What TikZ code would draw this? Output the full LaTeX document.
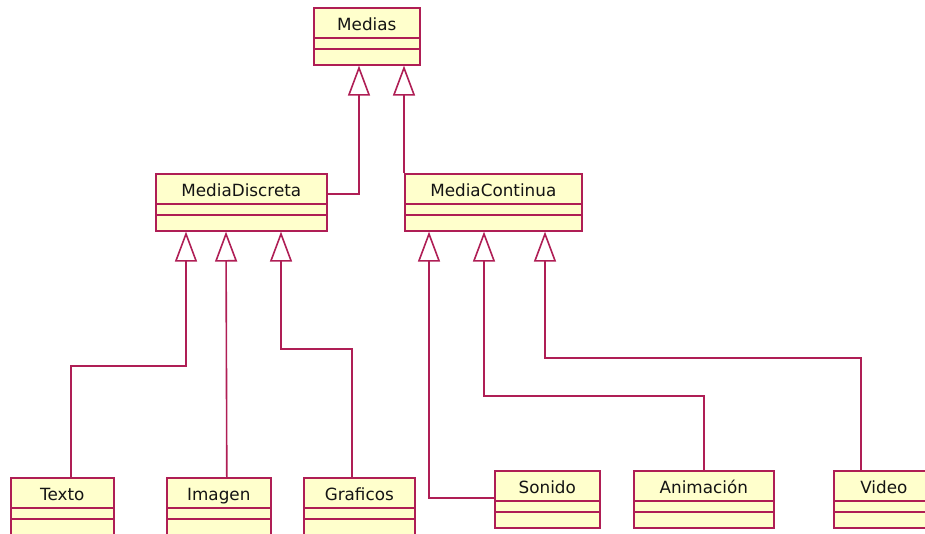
\documentclass[tikz,border=0pt]{standalone}
\usepackage{fontspec}
\setmainfont{DejaVu Sans}
\usetikzlibrary{arrows.meta}

\definecolor{umlborder}{RGB}{175,30,85}
\definecolor{umlfill}{RGB}{255,255,204}
\definecolor{umltext}{RGB}{20,20,20}

\tikzset{
  umlline/.style={line width=1.6pt},
  classbox/.style={draw=umlborder, fill=umlfill, umlline,
    inner sep=0pt, anchor=north west, minimum height=57pt},
  classname/.style={anchor=base, inner sep=0pt, text=umltext,
    font=\fontsize{16.8}{20}\selectfont},
  divider/.style={draw=umlborder, umlline},
  gen/.style={draw=umlborder, umlline,
    -{Triangle[open, length=30pt, width=22pt]}},
}

% \umlclass{id}{x}{y}{width}{name}: class box with name, attribute and operation compartments
\newcommand\umlclass[5]{%
  \node[classbox, minimum width=#4pt] (#1) at (#2,#3) {};
  \path[divider] ([yshift=-31pt]#1.north west) -- ([yshift=-31pt]#1.north east);
  \path[divider] ([yshift=-42pt]#1.north west) -- ([yshift=-42pt]#1.north east);
  \node[classname] (#1-name) at ([yshift=-23.5pt]#1.north) {#5};
}

\begin{document}
\begin{tikzpicture}[x=1pt, y=-1pt]
  \useasboundingbox (0,0) rectangle (925,533);
  \clip (0,0) rectangle (925,533);

  % classes
  \umlclass{medias}{313}{7}{106}{Medias}
  \umlclass{mdisc}{155}{173}{171}{MediaDiscreta}
  \umlclass{mcont}{404}{173}{177}{MediaContinua}
  \umlclass{texto}{10}{477}{103}{Texto}
  \umlclass{imagen}{166}{477}{104}{Imagen}
  \umlclass{graficos}{303}{477}{111}{Graficos}
  \umlclass{sonido}{494}{470}{105}{Sonido}
  \umlclass{animacion}{633}{470}{140}{Animación}
  \umlclass{video}{833}{470}{100}{Video}

  % generalizations towards Medias
  \draw[gen] ([yshift=8.5pt]mdisc.east) -| ([xshift=46pt]medias.south west);
  \draw[gen] (mcont.north west) -- ([xshift=91pt]medias.south west);

  % generalizations towards MediaDiscreta
  \draw[gen] ([xshift=8.5pt]texto.north) -- ++(0,-111) -| ([xshift=31pt]mdisc.south west);
  \draw[gen] ([xshift=8pt]imagen.north) -- ([xshift=71pt]mdisc.south west);
  \draw[gen] ([xshift=-7.5pt]graficos.north) -- ++(0,-128) -| ([xshift=126pt]mdisc.south west);

  % generalizations towards MediaContinua
  \draw[gen] ([yshift=1.5pt]sonido.west) -| ([xshift=25pt]mcont.south west);
  \draw[gen] (animacion.north) -- ++(0,-74) -| ([xshift=80pt]mcont.south west);
  \draw[gen] ([xshift=-23pt]video.north) -- ++(0,-112) -| ([xshift=141pt]mcont.south west);
\end{tikzpicture}
\end{document}
